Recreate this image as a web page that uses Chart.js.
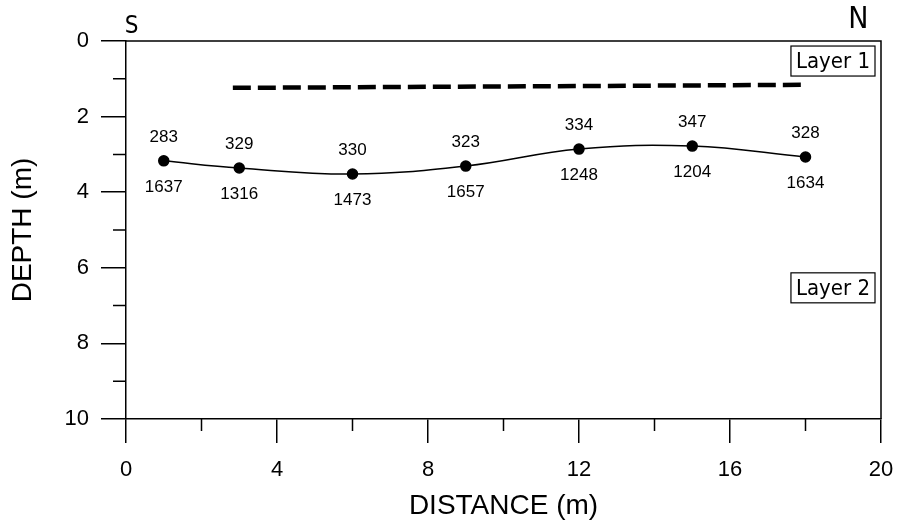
<!DOCTYPE html>
<html>
<head>
<meta charset="utf-8">
<script src="https://cdn.jsdelivr.net/npm/chart.js@4/dist/chart.umd.min.js"></script>
<style>
  html, body { margin: 0; padding: 0; background: #fff; }
  #wrap { width: 901px; height: 523px; }
</style>
</head>
<body>
<div id="wrap"><canvas id="depthChart" width="901" height="523"></canvas></div>
<script>
// 測線上の距離 (m)
const distances = [1, 3, 6, 9, 12, 15, 18];
// 境界の深さ (m)
const depths = [3.17, 3.36, 3.52, 3.31, 2.86, 2.78, 3.07];
// 上側のラベル（第1層の値）
const upperLabels = ['283', '329', '330', '323', '334', '347', '328'];
// 下側のラベル（第2層の値）
const lowerLabels = ['1637', '1316', '1473', '1657', '1248', '1204', '1634'];
// 破線（浅い境界）の端点
const dashX = [2.83, 17.9];
const dashY = [1.24, 1.16];
// 軸の目盛り
const xMajorTicks = [0, 4, 8, 12, 16, 20];
const xMinorTicks = [2, 6, 10, 14, 18];
const yMajorTicks = [0, 2, 4, 6, 8, 10];
const yMinorTicks = [1, 3, 5, 7, 9];
// 層の名前と位置（データ座標）
const layerNames = ['Layer 1', 'Layer 2'];
const layerDepths = [0.53, 6.53];

const mainFont = '"Liberation Sans", Arial, sans-serif';
const narrowFont = '"Liberation Sans Narrow", "DejaVu Sans Condensed", sans-serif';

// 枠線、補助目盛り、ラベルを描くプラグイン
const decorPlugin = {
    id: 'decor',
    afterDatasetsDraw(chart) {
        const ctx = chart.ctx;
        const area = chart.chartArea;
        const xs = chart.scales.x;
        const ys = chart.scales.y;
        ctx.save();
        ctx.strokeStyle = '#000';
        ctx.lineWidth = 1.5;
        // 上と右の枠
        ctx.beginPath();
        ctx.moveTo(area.left, area.top);
        ctx.lineTo(area.right, area.top);
        ctx.lineTo(area.right, area.bottom);
        ctx.stroke();
        // 補助目盛り
        ctx.beginPath();
        yMinorTicks.forEach(v => {
            const py = ys.getPixelForValue(v);
            ctx.moveTo(area.left - 13, py);
            ctx.lineTo(area.left, py);
        });
        xMinorTicks.forEach(v => {
            const px = xs.getPixelForValue(v);
            ctx.moveTo(px, area.bottom);
            ctx.lineTo(px, area.bottom + 12);
        });
        ctx.stroke();

        // 点の上下の数値
        const meta = chart.getDatasetMeta(0);
        ctx.fillStyle = '#000';
        ctx.font = '17px ' + mainFont;
        ctx.textAlign = 'center';
        ctx.textBaseline = 'middle';
        meta.data.forEach((pt, i) => {
            ctx.fillText(upperLabels[i], pt.x, pt.y - 24);
            ctx.fillText(lowerLabels[i], pt.x, pt.y + 26);
        });

        // 層の名前（枠付き）
        ctx.font = '22px ' + narrowFont;
        layerNames.forEach((name, i) => {
            const cy = ys.getPixelForValue(layerDepths[i]);
            const w = ctx.measureText(name).width + 10;
            const right = area.right - 6;
            ctx.lineWidth = 1.2;
            ctx.strokeRect(right - w, cy - 15, w, 30);
            ctx.textAlign = 'center';
            ctx.fillText(name, right - w / 2, cy + 1);
        });

        // 方位 S と N
        ctx.textBaseline = 'alphabetic';
        ctx.font = '24px ' + narrowFont;
        ctx.fillText('S', xs.getPixelForValue(0.15), area.top - 8);
        ctx.font = '30px ' + narrowFont;
        ctx.fillText('N', xs.getPixelForValue(19.4), area.top - 13);
        ctx.restore();
    }
};

new Chart(document.getElementById('depthChart'), {
    type: 'scatter',
    data: {
        datasets: [{
            data: distances.map((d, i) => ({ x: d, y: depths[i] })),
            showLine: true,
            tension: 0.4,
            borderColor: '#000',
            borderWidth: 1.5,
            pointRadius: 5,
            pointBackgroundColor: '#000',
            pointBorderColor: '#000'
        }, {
            data: dashX.map((d, i) => ({ x: d, y: dashY[i] })),
            showLine: true,
            borderColor: '#000',
            borderWidth: 4.5,
            borderDash: [18, 7],
            pointRadius: 0
        }]
    },
    options: {
        responsive: false,
        animation: false,
        devicePixelRatio: 1,
        layout: { padding: { left: 0, right: 20, top: 41, bottom: 0 } },
        plugins: {
            legend: { display: false },
            tooltip: { enabled: false }
        },
        scales: {
            x: {
                type: 'linear',
                min: 0,
                max: 20,
                afterFit(scale) {
                    scale.height = 104;
                    scale.paddingLeft = 0;
                    scale.paddingRight = 0;
                },
                afterBuildTicks(scale) { scale.ticks = xMajorTicks.map(v => ({ value: v })); },
                ticks: {
                    color: '#000',
                    font: { family: mainFont, size: 22 },
                    padding: 14
                },
                grid: {
                    drawOnChartArea: false,
                    tickLength: 24,
                    color: '#000',
                    lineWidth: 1.5
                },
                border: { display: true, color: '#000', width: 1.5 },
                title: {
                    display: true,
                    text: 'DISTANCE (m)',
                    color: '#000',
                    font: { family: mainFont, size: 28 },
                    padding: { top: 0, bottom: 0 }
                }
            },
            y: {
                type: 'linear',
                min: 0,
                max: 10,
                reverse: true,
                afterFit(scale) {
                    scale.width = 126;
                    scale.paddingTop = 0;
                    scale.paddingBottom = 0;
                },
                afterBuildTicks(scale) { scale.ticks = yMajorTicks.map(v => ({ value: v })); },
                ticks: {
                    color: '#000',
                    font: { family: mainFont, size: 22 },
                    padding: 12
                },
                grid: {
                    drawOnChartArea: false,
                    tickLength: 25,
                    color: '#000',
                    lineWidth: 1.5
                },
                border: { display: true, color: '#000', width: 1.5 },
                title: {
                    display: true,
                    text: 'DEPTH (m)',
                    color: '#000',
                    font: { family: mainFont, size: 28 },
                    padding: { top: 6, bottom: 0 }
                }
            }
        }
    },
    plugins: [decorPlugin]
});
</script>
</body>
</html>
